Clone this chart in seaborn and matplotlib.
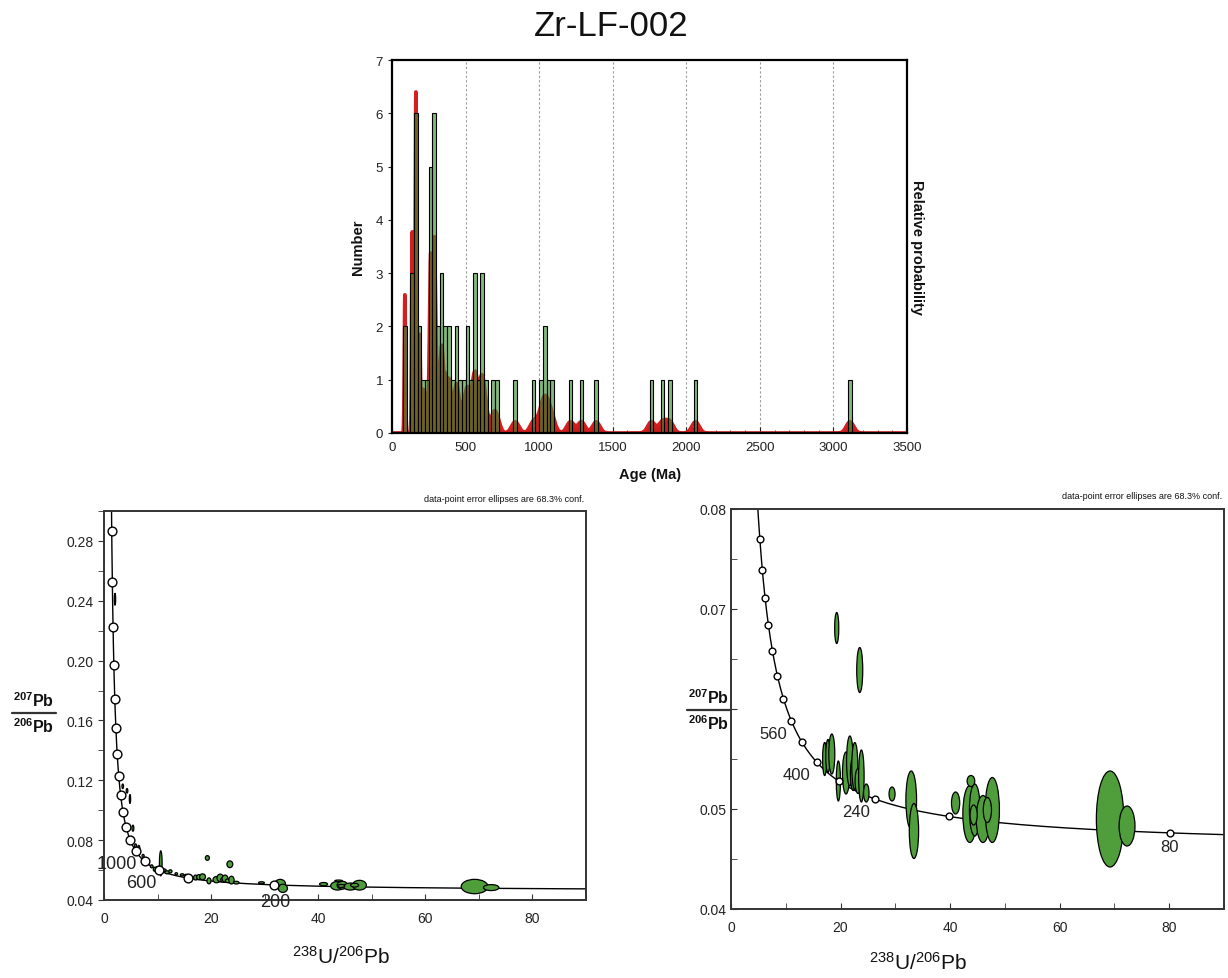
import numpy as np
import pandas as pd
import seaborn as sns
import matplotlib.pyplot as plt
from matplotlib.patches import Ellipse
from matplotlib.lines import Line2D
from matplotlib.ticker import MultipleLocator, FuncFormatter

# ---- detrital zircon age histogram (25 Ma bins, bin centres in Ma) ----
bin_ages = [87.5, 137.5, 162.5, 187.5, 212.5, 237.5, 262.5, 287.5, 312.5, 337.5,
            362.5, 387.5, 412.5, 437.5, 462.5, 487.5, 512.5, 537.5, 562.5, 587.5,
            612.5, 637.5, 687.5, 712.5, 837.5, 962.5, 1012.5, 1037.5, 1062.5, 1087.5,
            1212.5, 1287.5, 1387.5, 1762.5, 1837.5, 1887.5, 2062.5, 3112.5]
bin_counts = [2, 3, 6, 2, 1, 1, 5, 6, 2, 3,
              2, 2, 1, 2, 1, 1, 2, 1, 3, 1,
              3, 1, 1, 1, 1, 1, 1, 2, 1, 1,
              1, 1, 1, 1, 1, 1, 1, 1]
# 1 sigma age error model for the probability curve
pdp_rel_err = 0.03
pdp_min_err = 4.0
pdp_max_err = 25.0
pdp_peak = 6.4  # height of the tallest probability peak on the count scale

# ---- Tera-Wasserburg data: young grains (shown in both diagrams) ----
young_x = [69.2, 72.3, 32.9, 33.4, 29.4, 41.0, 43.6, 44.5, 46.0, 47.7, 46.8, 43.8, 44.3,
           17.1, 17.7, 18.4, 19.6, 21.0, 21.7, 22.3, 22.6, 23.2, 23.8, 24.7, 19.3, 23.5]
young_y = [0.0490, 0.0483, 0.0509, 0.0478, 0.0515, 0.0506, 0.0495, 0.0499, 0.0490, 0.0499,
           0.0499, 0.0528, 0.0494, 0.0550, 0.0553, 0.0555, 0.0528, 0.0536, 0.0548, 0.0535,
           0.0543, 0.0528, 0.0533, 0.0516, 0.0681, 0.0639]
young_w = [5.0, 2.9, 1.95, 1.7, 1.1, 1.5, 2.55, 1.95, 2.45, 2.6, 1.5, 1.4, 1.3,
           0.75, 0.8, 1.1, 0.75, 1.3, 1.2, 1.0, 1.1, 1.1, 1.0, 1.0, 0.75, 1.1]
young_h = [0.0096, 0.0040, 0.0058, 0.0055, 0.0014, 0.0022, 0.0057, 0.0052, 0.0047, 0.0065,
           0.0025, 0.0011, 0.0020, 0.0033, 0.0033, 0.0040, 0.0040, 0.0042, 0.0050, 0.0033,
           0.0047, 0.0025, 0.0052, 0.0018, 0.0031, 0.0045]

# older grains (whole-sample diagram only)
old_x = [2.05, 3.5, 4.3, 4.85, 5.2, 5.4, 5.9, 6.2, 6.5, 7.3, 8.9, 9.6, 10.1, 10.6,
         11.2, 11.8, 12.4, 13.5, 14.6, 15.3, 16.2]
old_y = [0.241, 0.116, 0.113, 0.1075, 0.081, 0.088, 0.076, 0.073, 0.0745, 0.0695, 0.0625,
         0.0605, 0.0615, 0.0645, 0.0598, 0.0585, 0.0592, 0.0575, 0.0568, 0.0562, 0.0548]
old_w = [0.25, 0.3, 0.3, 0.25, 0.4, 0.35, 0.4, 0.5, 0.4, 0.4, 0.5, 0.8, 0.6, 0.5,
         0.8, 0.9, 0.6, 0.5, 0.7, 0.5, 0.8]
old_h = [0.008, 0.003, 0.003, 0.006, 0.003, 0.004, 0.003, 0.003, 0.004, 0.002, 0.002,
         0.003, 0.002, 0.0167, 0.002, 0.002, 0.002, 0.0015, 0.0015, 0.002, 0.0015]

# concordia age markers (Ma) and labelled ages
left_marker_ages = [200, 400, 600, 800, 1000, 1200, 1400, 1600, 1800, 2000,
                    2200, 2400, 2600, 2800, 3000, 3200, 3400]
left_label_ages = [1000, 600, 200]
right_marker_ages = [80, 160, 240, 320, 400, 480, 560, 640, 720, 800, 880, 960, 1040, 1120]
right_label_ages = [560, 400, 240, 80]

# decay constants (1/Ma) and 238U/235U
L238, L235, U_RATIO = 1.55125e-4, 9.8485e-4, 137.88


def tera_wasserburg(t):
    t = np.asarray(t, dtype=float)
    x = 1.0 / np.expm1(L238 * t)
    y = np.expm1(L235 * t) / np.expm1(L238 * t) / U_RATIO
    return x, y


sns.set_style("ticks")
plt.rcParams["font.family"] = ["Liberation Sans", "DejaVu Sans"]
plt.rcParams["mathtext.fontset"] = "custom"
plt.rcParams["mathtext.rm"] = "Liberation Sans"
plt.rcParams["mathtext.it"] = "Liberation Sans:italic"
plt.rcParams["mathtext.bf"] = "Liberation Sans:bold"
plt.rcParams["text.color"] = "#111111"
plt.rcParams["xtick.color"] = "#222222"
plt.rcParams["ytick.color"] = "#222222"

W, H = 1228, 979
fig = plt.figure(figsize=(W / 100, H / 100), dpi=100)


def fx(px):
    return px / W


def fy(py):
    return 1 - py / H


fig.text(fx(611), fy(26), "Zr-LF-002", ha="center", va="center", fontsize=25)

# ================= histogram + probability curve =================
ax = fig.add_axes([fx(392), fy(434), fx(907) - fx(392), fy(61) - fy(434)])

ages = np.repeat(bin_ages, bin_counts)
sig = np.clip(pdp_rel_err * ages, pdp_min_err, pdp_max_err)
grid = np.linspace(0, 3500, 3501)
dens = (np.exp(-0.5 * ((grid[:, None] - ages[None, :]) / sig[None, :]) ** 2)
        / sig[None, :]).sum(axis=1)
dens = dens / dens.max() * pdp_peak
pdp = pd.DataFrame({"age": grid, "prob": dens})

ax.fill_between(pdp["age"], 0, pdp["prob"], color="#c81c1c", lw=0, zorder=1)
sns.lineplot(data=pdp, x="age", y="prob", ax=ax, color="#d41f1f", lw=2.6, zorder=1.5)

hist = pd.DataFrame({"age": bin_ages, "n": bin_counts})
sns.histplot(data=hist, x="age", weights="n", binwidth=25, binrange=(0, 3500), ax=ax,
             color=(0.22, 0.55, 0.18), alpha=0.62, edgecolor="black", linewidth=0.8,
             zorder=2)
for p in ax.patches:
    if p.get_height() == 0:
        p.set_visible(False)

for g in [500, 1000, 1500, 2000, 2500, 3000]:
    ax.axvline(g, color="#9a9a9a", lw=0.8, ls=(0, (2, 2)), zorder=0)

ax.set_xlim(0, 3500)
ax.set_ylim(0, 7)
ax.set_xlabel("")
ax.set_ylabel("")
ax.xaxis.set_major_locator(MultipleLocator(500))
ax.xaxis.set_minor_locator(MultipleLocator(100))
ax.yaxis.set_major_locator(MultipleLocator(1))
ax.tick_params(axis="x", which="both", direction="in", labelsize=9.5, pad=6)
ax.tick_params(axis="x", which="major", length=4)
ax.tick_params(axis="x", which="minor", length=2.5)
ax.tick_params(axis="y", direction="out", length=3, labelsize=9.5)
for s in ax.spines.values():
    s.set_visible(True)
    s.set_color("black")
    s.set_linewidth(1.6)
fig.text(fx(358), fy(247), "Number", rotation=90, ha="center", va="center",
         fontsize=10.5, fontweight="bold")
fig.text(fx(650), fy(475), "Age (Ma)", ha="center", va="center",
         fontsize=10.5, fontweight="bold")
fig.text(fx(910), fy(247), "Relative probability", rotation=270, ha="left", va="center",
         fontsize=10.5, fontweight="bold")

# ================= Tera-Wasserburg diagrams =================
curve_t = np.geomspace(20, 4500, 1500)
cx, cy = tera_wasserburg(curve_t)
curve = pd.DataFrame({"x": cx, "y": cy})


def tw_panel(rect, ex, ey, ew, eh, ylim, ystep, yminor, ydir, marker_ages,
             label_ages, label_pos, label_size, ms, hide_label=None):
    a = fig.add_axes(rect)
    sns.lineplot(data=curve, x="x", y="y", sort=False, ax=a, color="black", lw=1.0, zorder=2)
    for x0, y0, w0, h0 in zip(ex, ey, ew, eh):
        a.add_patch(Ellipse((x0, y0), w0, h0, facecolor="#4f9e3b", edgecolor="black",
                            lw=0.9, zorder=3))
    mx, my = tera_wasserburg(marker_ages)
    sns.scatterplot(x=mx, y=my, ax=a, marker="o", s=ms, facecolor="white",
                    edgecolor="black", linewidth=1.0, zorder=4)
    for age, (lx, ly) in zip(label_ages, label_pos):
        a.text(lx, ly, str(age), fontsize=label_size, ha="center", va="center",
               color="#222222", zorder=5)
    a.set_xlim(0, 90)
    a.set_ylim(*ylim)
    a.set_xlabel("")
    a.set_ylabel("")
    a.xaxis.set_major_locator(MultipleLocator(20))
    a.xaxis.set_minor_locator(MultipleLocator(10))
    a.yaxis.set_major_locator(MultipleLocator(ystep))
    a.yaxis.set_minor_locator(MultipleLocator(yminor))

    def yfmt(v, pos):
        if hide_label is not None and abs(v - hide_label) < 1e-9:
            return ""
        return f"{v:.2f}"

    a.yaxis.set_major_formatter(FuncFormatter(yfmt))
    a.tick_params(axis="x", which="both", direction="in", length=4, labelsize=10,
                  pad=8, color="#333333")
    a.tick_params(axis="y", which="both", direction=ydir, length=4, labelsize=10,
                  color="#333333")
    for s in a.spines.values():
        s.set_visible(True)
        s.set_color("#333333")
        s.set_linewidth(1.4)
    return a


axl = tw_panel([fx(104), fy(901), fx(586) - fx(104), fy(512) - fy(901)],
               young_x + old_x, young_y + old_y, young_w + old_w, young_h + old_h,
               (0.04, 0.30), 0.04, 0.02, "out", left_marker_ages, left_label_ages,
               [(2.3, 0.0645), (7.0, 0.0518), (32.0, 0.0393)], 13, 40)
axr = tw_panel([fx(731), fy(910), fx(1224) - fx(731), fy(510) - fy(910)],
               young_x, young_y, young_w, young_h,
               (0.04, 0.08), 0.01, 0.005, "in", right_marker_ages, right_label_ages,
               [(7.7, 0.0575), (12.0, 0.0534), (22.9, 0.0497), (80.1, 0.0462)], 12, 24,
               hide_label=0.06)

for xr, yt in [(584, 499), (1222, 497)]:
    fig.text(fx(xr), fy(yt), "data-point error ellipses are 68.3% conf.", ha="right",
             va="center", fontsize=6.5)

# stacked 207Pb/206Pb axis labels and 238U/206Pb x labels
for cxp, ycen in [(34, 714), (709, 711)]:
    fig.text(fx(cxp), fy(ycen - 13), r"$^{\mathbf{207}}$Pb", ha="center", va="center",
             fontsize=11.5, fontweight="bold")
    fig.text(fx(cxp), fy(ycen + 13), r"$^{\mathbf{206}}$Pb", ha="center", va="center",
             fontsize=11.5, fontweight="bold")
    fig.add_artist(Line2D([fx(cxp - 22), fx(cxp + 22)], [fy(ycen), fy(ycen)],
                          color="#333333", lw=1.6))

for cxp, cyp in [(341, 957), (918, 963)]:
    fig.text(fx(cxp), fy(cyp), r"$^{238}$U/$^{206}$Pb", ha="center", va="center",
             fontsize=15)

fig.savefig("out.png", dpi=100)
